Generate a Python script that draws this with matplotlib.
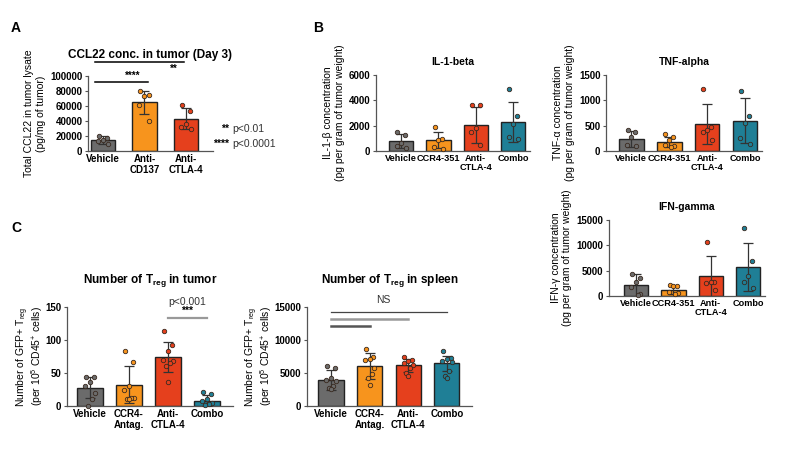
import matplotlib
matplotlib.use("Agg")
import matplotlib.pyplot as plt

plt.rcParams['font.family'] = ['Liberation Sans', 'DejaVu Sans']
plt.rcParams['mathtext.default'] = 'regular'

GRAY = '#6b6b6b'
ORANGE = '#f7941d'
RED = '#e5401d'
TEAL = '#1f7f96'

# ---- data ----
ccl22_groups = ['Vehicle', 'Anti-\nCD137', 'Anti-\nCTLA-4']
ccl22_mean = [15000, 65000, 43000]
ccl22_sd = [5000, 15500, 14000]
ccl22_pts = [[20000, 17000, 15000, 13000, 10000],
             [80000, 75000, 74000, 61000, 40000],
             [62000, 54000, 36000, 32000, 30000]]

cyto_groups = ['Vehicle', 'CCR4-351', 'Anti-\nCTLA-4', 'Combo']
il1b_mean = [800, 850, 2050, 2300]
il1b_sd = [550, 650, 1450, 1600]
il1b_pts = [[1500, 1250, 600, 400, 200],
            [1900, 950, 850, 300, 150],
            [3600, 3600, 1800, 1500, 500],
            [4900, 2750, 2100, 1100, 950]]

tnf_mean = [240, 180, 530, 600]
tnf_sd = [155, 100, 400, 450]
tnf_pts = [[410, 370, 280, 110, 100],
           [330, 280, 220, 120, 100, 80],
           [1220, 480, 410, 380, 215],
           [1180, 700, 560, 250, 130]]

ifn_mean = [2100, 1200, 3850, 5700]
ifn_sd = [2300, 800, 4000, 4700]
ifn_pts = [[4300, 3500, 2700, 1700, 400, 200],
           [2200, 2000, 1900, 800, 600, 400],
           [10600, 2800, 2700, 2500, 1200],
           [13500, 7000, 4000, 2700, 1500]]

treg_groups = ['Vehicle', 'CCR4-\nAntag.', 'Anti-\nCTLA-4', 'Combo']
treg_tumor_mean = [28, 32, 74, 8]
treg_tumor_sd = [16, 28, 23, 8]
treg_tumor_pts = [[44, 44, 37, 30, 20, 10, 0],
                  [84, 66, 30, 25, 12, 12, 10, 10],
                  [114, 93, 84, 70, 68, 65, 60, 36],
                  [21, 18, 10, 8, 5, 3, 2]]

treg_spleen_mean = [3900, 6050, 6150, 6450]
treg_spleen_sd = [1500, 1950, 1000, 1200]
treg_spleen_pts = [[6100, 5800, 4200, 4000, 3800, 3100, 2700, 2600],
                   [8600, 7400, 7100, 7000, 5800, 4800, 4200, 3200],
                   [7500, 7000, 6800, 6500, 6200, 5800, 5000, 4500],
                   [8400, 7300, 7100, 6800, 6700, 5300, 4500, 4300]]

fig = plt.figure(figsize=(8, 4.5), dpi=100)


def add_ax(left, top, right, bottom):
    return fig.add_axes([left / 800, 1 - bottom / 450, (right - left) / 800, (bottom - top) / 450])


def bar_panel(ax, groups, mean, sd, pts, colors, ymax, yticks, xlim, width=0.65, xfs=7):
    x = list(range(len(groups)))
    ax.bar(x, mean, width=width, color=colors, edgecolor='#222222', linewidth=1.0, zorder=2)
    ax.errorbar(x, mean, yerr=sd, fmt='none', ecolor='#333333', elinewidth=0.9,
                capsize=3.5, capthick=0.9, zorder=3)
    jit = [-0.1, 0.1, 0.0, -0.12, 0.12, 0.05, -0.05, 0.0]
    for i, vals in enumerate(pts):
        xs = [i + jit[k % len(jit)] for k in range(len(vals))]
        ax.plot(xs, vals, 'o', ms=3.2, mfc=colors[i], mec='#3a2a20', mew=0.6,
                zorder=4, clip_on=False)
    ax.set_ylim(0, ymax)
    ax.set_xlim(*xlim)
    ax.set_yticks(yticks)
    ax.set_xticks(x)
    ax.set_xticklabels(groups, fontsize=xfs, fontweight='bold', linespacing=1.1)
    for lab in ax.get_yticklabels():
        lab.set_fontsize(7)
        lab.set_fontweight('bold')
    for s in ['top', 'right']:
        ax.spines[s].set_visible(False)
    for s in ['left', 'bottom']:
        ax.spines[s].set_color('#555555')
        ax.spines[s].set_linewidth(0.9)
    ax.tick_params(axis='both', length=2.5, width=0.8, color='#555555', pad=1.5)
    ax.tick_params(axis='x', length=0, pad=2)


four = [GRAY, ORANGE, RED, TEAL]

# ---- Panel A ----
axA = add_ax(88, 76, 213, 151)
bar_panel(axA, ccl22_groups, ccl22_mean, ccl22_sd, ccl22_pts, [GRAY, ORANGE, RED],
          100000, [0, 20000, 40000, 60000, 80000, 100000], (-0.36, 2.65), width=0.58)
axA.set_title('CCL22 conc. in tumor (Day 3)', fontsize=8.5, fontweight='bold', pad=13)
axA.set_ylabel('Total CCL22 in tumor lysate\n(pg/mg of tumor)', fontsize=7.5, labelpad=3)
axA.plot([-0.19, 1.08], [92000, 92000], color='black', lw=1.1, clip_on=False)
axA.text(0.72, 94000, '****', ha='center', va='bottom', fontsize=7, fontweight='bold')
axA.plot([-0.19, 1.96], [118700, 118700], color='black', lw=1.1, clip_on=False)
axA.text(1.7, 116000, '**', ha='center', va='top', fontsize=7, fontweight='bold')
fig.text(229 / 800, 1 - 129 / 450, '**', fontsize=7.5, fontweight='bold', ha='right', va='center')
fig.text(232 / 800, 1 - 129 / 450, 'p<0.01', fontsize=7.5, color='#333333', ha='left', va='center')
fig.text(229 / 800, 1 - 144 / 450, '****', fontsize=7.5, fontweight='bold', ha='right', va='center')
fig.text(232 / 800, 1 - 144 / 450, 'p<0.0001', fontsize=7.5, color='#333333', ha='left', va='center')

# ---- Panel B ----
axB1 = add_ax(376, 75, 530, 151)
bar_panel(axB1, cyto_groups, il1b_mean, il1b_sd, il1b_pts, four,
          6000, [0, 2000, 4000, 6000], (-0.67, 3.45), xfs=6.6)
axB1.set_title('IL-1-beta', fontsize=7.5, fontweight='bold', pad=7)
axB1.set_ylabel('IL-1-β concentration\n(pg per gram of tumor weight)', fontsize=7.5, labelpad=3)

axB2 = add_ax(606, 75, 762, 151)
bar_panel(axB2, cyto_groups, tnf_mean, tnf_sd, tnf_pts, four,
          1500, [0, 500, 1000, 1500], (-0.67, 3.45), xfs=6.6)
axB2.set_title('TNF-alpha', fontsize=7.5, fontweight='bold', pad=7)
axB2.set_ylabel('TNF-α concentration\n(pg per gram of tumor weight)', fontsize=7.5, labelpad=3)

axB3 = add_ax(609, 220, 765, 296)
bar_panel(axB3, cyto_groups, ifn_mean, ifn_sd, ifn_pts, four,
          15000, [0, 5000, 10000, 15000], (-0.72, 3.45), xfs=6.6)
axB3.set_title('IFN-gamma', fontsize=7.5, fontweight='bold', pad=7)
axB3.set_ylabel('IFN-γ concentration\n(pg per gram of tumor weight)', fontsize=7.5, labelpad=3)

# ---- Panel C ----
treg_ylabel = 'Number of GFP+ T$_{reg}$\n(per 10$^{5}$ CD45$^{+}$ cells)'

axC1 = add_ax(67, 307, 233, 406)
bar_panel(axC1, treg_groups, treg_tumor_mean, treg_tumor_sd, treg_tumor_pts, four,
          150, [0, 50, 100, 150], (-0.59, 3.67))
axC1.set_title('Number of T$_{reg}$ in tumor', fontsize=8.5, fontweight='bold', pad=17)
axC1.set_ylabel(treg_ylabel, fontsize=7.5, linespacing=0.85)
axC1.yaxis.set_label_coords(-0.135, 0.5)
axC1.plot([2, 3], [133, 133], color='#999999', lw=1.6, clip_on=False)
axC1.text(2.5, 136, '***', ha='center', va='bottom', fontsize=7.5, fontweight='bold')
axC1.text(2.5, 150, 'p<0.001', ha='center', va='bottom', fontsize=7.5, color='#333333')

axC2 = add_ax(307, 307, 472, 406)
bar_panel(axC2, treg_groups, treg_spleen_mean, treg_spleen_sd, treg_spleen_pts, four,
          15000, [0, 5000, 10000, 15000], (-0.62, 3.65))
axC2.set_title('Number of T$_{reg}$ in spleen', fontsize=8.5, fontweight='bold', pad=17)
axC2.set_ylabel(treg_ylabel, fontsize=7.5, linespacing=0.85)
axC2.yaxis.set_label_coords(-0.2, 0.5)
axC2.plot([0, 1], [12120, 12120], color='#555555', lw=1.8, clip_on=False)
axC2.plot([0, 2], [13180, 13180], color='#999999', lw=1.8, clip_on=False)
axC2.plot([0, 3], [14240, 14240], color='#444444', lw=0.9, clip_on=False)
axC2.text(1.35, 15300, 'NS', ha='center', va='bottom', fontsize=7.5, color='#333333')

# panel letters
fig.text(11 / 800, 1 - 28 / 450, 'A', fontsize=10, fontweight='bold', va='center')
fig.text(313 / 800, 1 - 28 / 450, 'B', fontsize=10, fontweight='bold', va='center')
fig.text(11 / 800, 1 - 228 / 450, 'C', fontsize=10, fontweight='bold', va='center')

fig.savefig('out.png', dpi=100)
